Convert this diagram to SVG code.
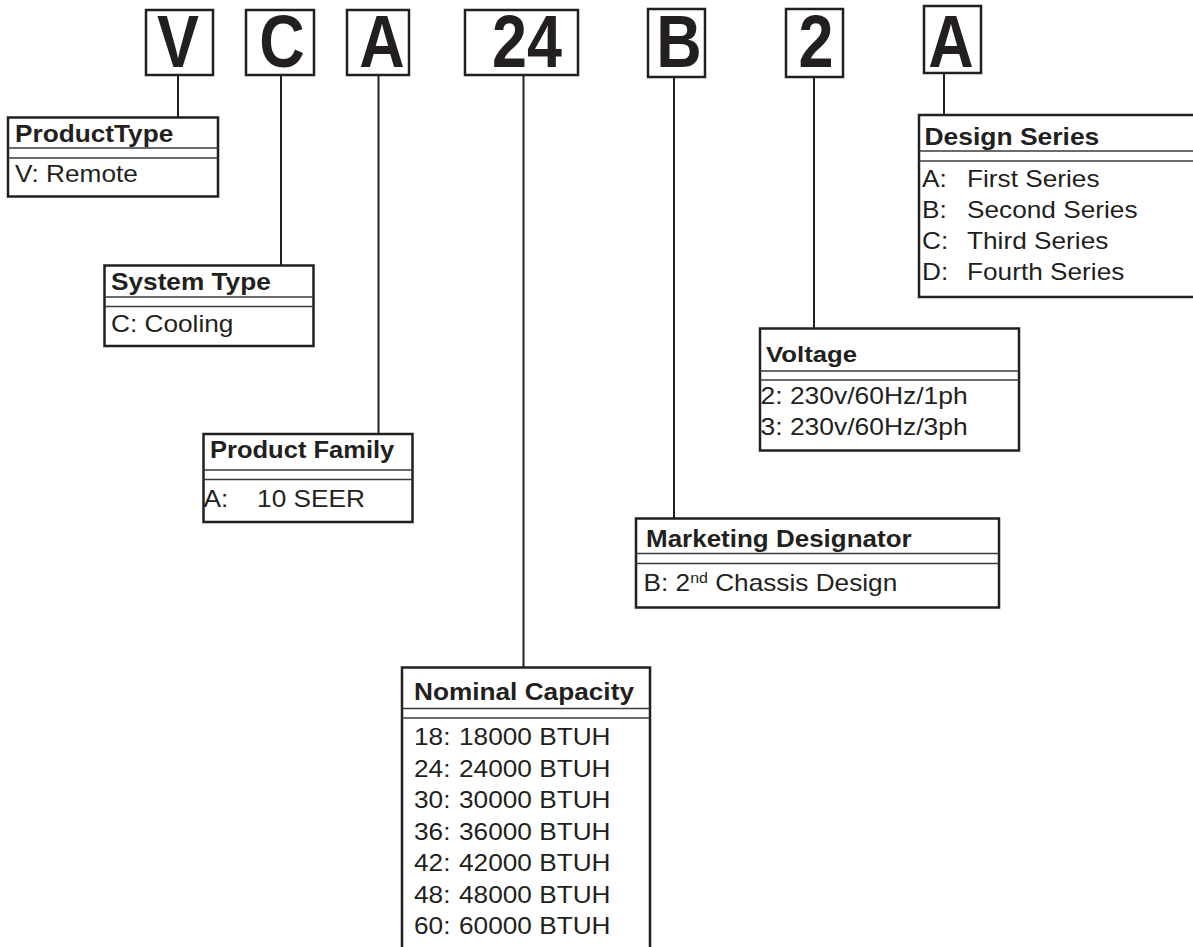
<svg xmlns="http://www.w3.org/2000/svg" width="1193" height="947" viewBox="0 0 1193 947" xml:space="preserve">
<style>
.bg{fill:#ffffff}
.box{fill:#ffffff;stroke:#231f20;stroke-width:2.5}
.sep{stroke:#3a3a3a;stroke-width:1.5;fill:none}
.conn{stroke:#231f20;stroke-width:2;fill:none}
.big{font-family:"Liberation Sans",Arial,sans-serif;font-weight:bold;font-size:74px;fill:#231f20;text-anchor:middle}
.h{font-family:"Liberation Sans",Arial,sans-serif;font-weight:bold;font-size:23px;fill:#231f20}
.t{font-family:"Liberation Sans",Arial,sans-serif;font-size:23px;fill:#231f20}
.sup{font-size:14px}
</style>
<rect class="bg" x="0" y="0" width="1193" height="947"/>

<g id="connectors">
<line class="conn" x1="178" y1="75" x2="178" y2="117"/>
<line class="conn" x1="281" y1="75" x2="281" y2="265"/>
<line class="conn" x1="378.5" y1="75" x2="378.5" y2="434"/>
<line class="conn" x1="523.5" y1="75" x2="523.5" y2="667"/>
<line class="conn" x1="674" y1="77" x2="674" y2="518"/>
<line class="conn" x1="814" y1="77" x2="814" y2="328"/>
<line class="conn" x1="944" y1="73" x2="944" y2="115"/>
</g>

<g id="code-V"><rect class="box" x="146" y="10" width="67" height="65"/><text class="big" transform="translate(178,67) scale(0.85,1)">V</text></g>
<g id="code-C"><rect class="box" x="246" y="10" width="68" height="65"/><text class="big" transform="translate(282,67) scale(0.85,1)">C</text></g>
<g id="code-A"><rect class="box" x="347" y="10" width="62" height="65"/><text class="big" transform="translate(382,67) scale(0.85,1)">A</text></g>
<g id="code-24"><rect class="box" x="465" y="10" width="113" height="65"/><text class="big" transform="translate(527,67) scale(0.85,1)">24</text></g>
<g id="code-B"><rect class="box" x="648" y="9" width="57" height="68"/><text class="big" transform="translate(679,67) scale(0.85,1)">B</text></g>
<g id="code-2"><rect class="box" x="786" y="9" width="57" height="68"/><text class="big" transform="translate(816,67) scale(0.85,1)">2</text></g>
<g id="code-A2"><rect class="box" x="924" y="6" width="57" height="67"/><text class="big" transform="translate(951,67) scale(0.85,1)">A</text></g>

<g id="product-type">
<rect class="box" x="8" y="117.5" width="210" height="79"/>
<line class="sep" x1="8" y1="148" x2="218" y2="148"/><line class="sep" x1="8" y1="158" x2="218" y2="158"/>
<g transform="translate(15,0) scale(1.14,1)">
<text class="h" x="0" y="142.5">ProductType</text>
<text class="t" x="0" y="182">V: Remote</text>
</g>
</g>

<g id="system-type">
<rect class="box" x="104.5" y="265.5" width="209" height="80.5"/>
<line class="sep" x1="104.5" y1="297" x2="313.5" y2="297"/><line class="sep" x1="104.5" y1="306.5" x2="313.5" y2="306.5"/>
<g transform="translate(111,0) scale(1.14,1)">
<text class="h" x="0" y="290">System Type</text>
<text class="t" x="0" y="332.5">C: Cooling</text>
</g>
</g>

<g id="product-family">
<rect class="box" x="203.5" y="434" width="209" height="88"/>
<line class="sep" x1="203.5" y1="470" x2="412.5" y2="470"/><line class="sep" x1="203.5" y1="479.5" x2="412.5" y2="479.5"/>
<g transform="translate(210,0) scale(1.11,1)">
<text class="h" x="0" y="458.5">Product Family</text>
</g>
<g transform="translate(203.5,0) scale(1.14,1)">
<text class="t" y="507.5"><tspan x="0">A:</tspan><tspan x="47">10 SEER</tspan></text>
</g>
</g>

<g id="design-series">
<rect class="box" x="919" y="115" width="290" height="182"/>
<line class="sep" x1="919" y1="151" x2="1193" y2="151"/><line class="sep" x1="919" y1="161" x2="1193" y2="161"/>
<g transform="translate(924.5,0) scale(1.15,1)">
<text class="h" x="0" y="145">Design Series</text>
</g>
<g transform="translate(922,0) scale(1.14,1)">
<text class="t" y="187.5"><tspan x="0">A:</tspan><tspan x="39.5">First Series</tspan></text>
<text class="t" y="218.5"><tspan x="0">B:</tspan><tspan x="39.5">Second Series</tspan></text>
<text class="t" y="249.5"><tspan x="0">C:</tspan><tspan x="39.5">Third Series</tspan></text>
<text class="t" y="280.5"><tspan x="0">D:</tspan><tspan x="39.5">Fourth Series</tspan></text>
</g>
</g>

<g id="voltage">
<rect class="box" x="760" y="328.5" width="259" height="122"/>
<line class="sep" x1="760" y1="371" x2="1019" y2="371"/><line class="sep" x1="760" y1="380" x2="1019" y2="380"/>
<g transform="translate(766,0) scale(1.12,1)">
<text class="h" x="0" y="362">Voltage</text>
</g>
<g transform="translate(760.5,0) scale(1.15,1)">
<text class="t" x="0" y="404">2: 230v/60Hz/1ph</text>
<text class="t" x="0" y="435.5">3: 230v/60Hz/3ph</text>
</g>
</g>

<g id="marketing-designator">
<rect class="box" x="636" y="518.5" width="363" height="89"/>
<line class="sep" x1="636" y1="553.5" x2="999" y2="553.5"/><line class="sep" x1="636" y1="563.5" x2="999" y2="563.5"/>
<g transform="translate(646,0) scale(1.13,1)">
<text class="h" x="0" y="547">Marketing Designator</text>
</g>
<g transform="translate(643.5,0) scale(1.14,1)">
<text class="t" x="0" y="591">B: 2<tspan class="sup" dy="-8">nd</tspan><tspan dy="8"> Chassis Design</tspan></text>
</g>
</g>

<g id="nominal-capacity">
<rect class="box" x="402" y="667.5" width="248" height="290"/>
<line class="sep" x1="402" y1="708.5" x2="650" y2="708.5"/><line class="sep" x1="402" y1="718" x2="650" y2="718"/>
<g transform="translate(414,0) scale(1.14,1)">
<text class="h" x="0" y="700">Nominal Capacity</text>
<text class="t" y="745.5"><tspan x="0">18:</tspan><tspan x="39.5">18000 BTUH</tspan></text>
<text class="t" y="777"><tspan x="0">24:</tspan><tspan x="39.5">24000 BTUH</tspan></text>
<text class="t" y="808.5"><tspan x="0">30:</tspan><tspan x="39.5">30000 BTUH</tspan></text>
<text class="t" y="840"><tspan x="0">36:</tspan><tspan x="39.5">36000 BTUH</tspan></text>
<text class="t" y="871.5"><tspan x="0">42:</tspan><tspan x="39.5">42000 BTUH</tspan></text>
<text class="t" y="903"><tspan x="0">48:</tspan><tspan x="39.5">48000 BTUH</tspan></text>
<text class="t" y="934.5"><tspan x="0">60:</tspan><tspan x="39.5">60000 BTUH</tspan></text>
</g>
</g>
</svg>
